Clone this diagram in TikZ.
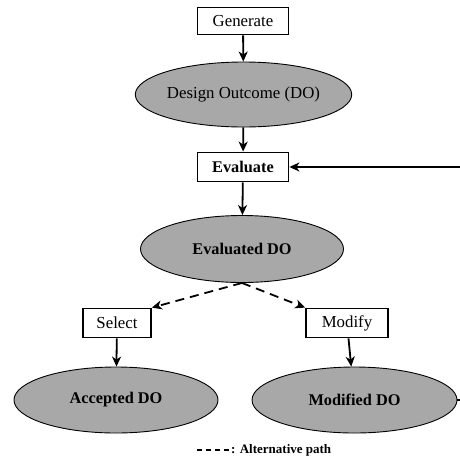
\documentclass[tikz,border=0pt]{standalone}
\usepackage{fontspec}
\setmainfont{Liberation Serif}
\usetikzlibrary{arrows.meta,shapes.geometric}
\definecolor{ellgray}{RGB}{168,168,168}
\tikzset{
  boxnode/.style={draw=black,line width=1.8pt,fill=white,inner sep=0pt,minimum height=27pt,font=\fontsize{16.8}{19}\selectfont},
  ellnode/.style={ellipse,draw=black,line width=0.9pt,fill=ellgray,inner sep=0pt,font=\fontsize{16.8}{19}\selectfont},
  boldtext/.style={font=\fontsize{16.3}{19}\selectfont\bfseries},
  flow/.style={line width=1.8pt,-{Stealth[length=10pt,width=9pt,inset=3pt]}},
  altflow/.style={flow,dash pattern=on 9pt off 6pt},
}
\begin{document}
\begin{tikzpicture}[x=1pt,y=-1pt]
\useasboundingbox[fill=white] (0,0) rectangle (460,459);
\node[boxnode,minimum width=91pt] (gen) at (243,21) {Generate};
\node[ellnode,minimum width=203pt,minimum height=65pt] (do) at (243.5,94.5) {Design Outcome (DO)};
\node[boxnode,boldtext,minimum width=91pt,minimum height=29pt] (eval) at (243,167) {Evaluate};
\node[ellnode,boldtext,minimum width=203pt,minimum height=67pt] (edo) at (242,249) {Evaluated DO};
\node[boxnode,minimum width=68pt,minimum height=29pt] (sel) at (117,323) {Select};
\node[boxnode,minimum width=82pt,minimum height=29pt] (mod) at (347,323) {Modify};
\node[ellnode,boldtext,minimum width=204pt,minimum height=66pt] (ado) at (116,400) {Accepted DO};
\node[ellnode,boldtext,minimum width=205pt,minimum height=66pt] (mdo) at (354.5,400) {Modified DO};
\coordinate (r1) at (460,400);
\coordinate (r2) at (460,167);
\coordinate (lg1) at (197,450);
\coordinate (lg2) at (230,450);
\node[anchor=west,inner sep=0pt,font=\fontsize{13}{15}\selectfont\bfseries] (legend) at (231,450) {: Alternative path};

\draw[flow] (gen) -- (do);
\draw[flow] (do) -- (eval);
\draw[flow] (eval) -- (edo);
\draw[altflow] (edo.south) -- (sel.north east);
\draw[altflow] (edo.south) -- (mod.north west);
\draw[flow] (sel) -- (ado);
\draw[flow] (mod) -- (mdo);
\draw[line width=1.8pt] (mdo.east) -- (r1);
\draw[flow] (r2) -- (eval.east);
\draw[line width=1.4pt,dash pattern=on 5pt off 4pt] (lg1) -- (lg2);
\end{tikzpicture}
\end{document}
